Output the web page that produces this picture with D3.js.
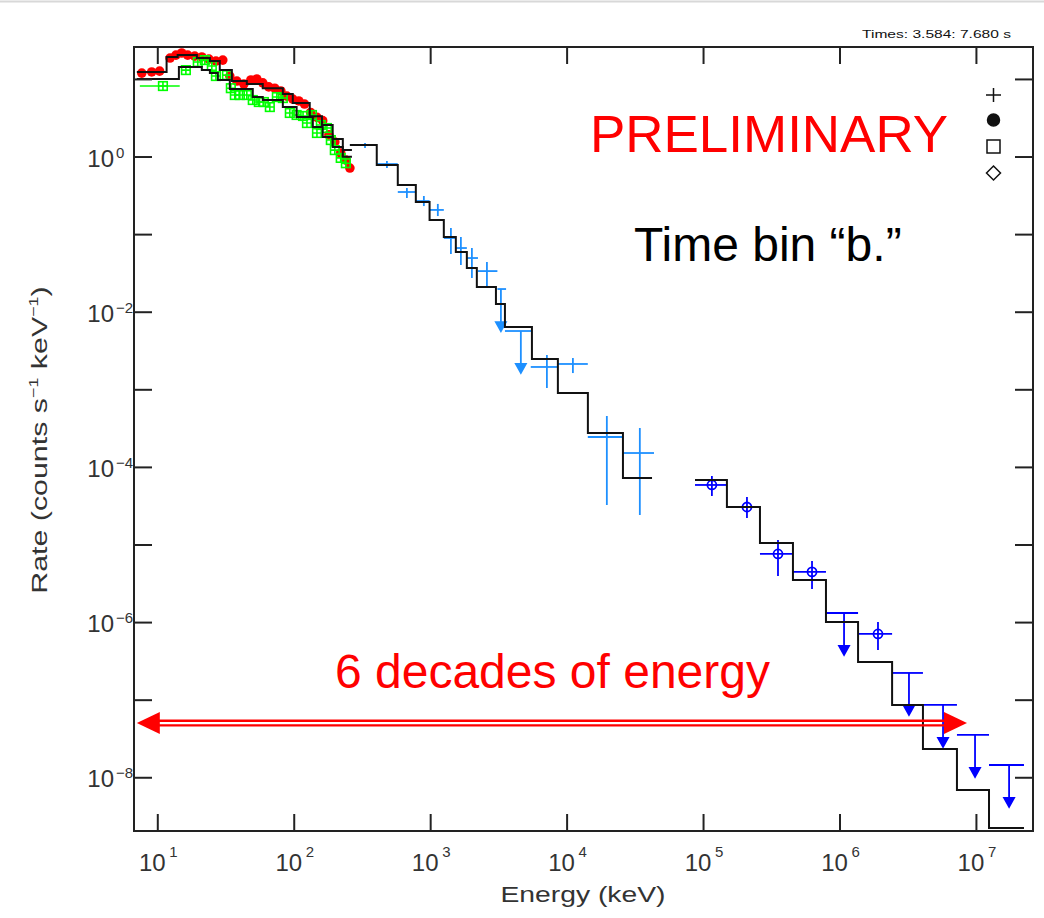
<!DOCTYPE html>
<html>
<head>
<meta charset="utf-8">
<script src="https://cdn.jsdelivr.net/npm/d3@7"></script>
<style>
  body { margin:0; background:#fff; }
  svg { display:block; }
  text { font-family:"Liberation Sans", Arial, sans-serif; }
</style>
</head>
<body>
<div class="canvas"></div>
<script>
// ---- data ----
// low energy detector 1 (red, filled circles)
const redE    = [7.7, 9.1, 10.4, 12.4, 13.7, 15.1, 16.7, 18.8, 21.2, 23.9, 26.9, 30.2, 34.0, 38.3, 43.1, 48.5, 53.6, 59.3, 65.6, 72.6, 80.4, 88.9, 98.4, 109, 120, 133, 148, 163, 181, 200, 221, 241, 258]
const redRate = [11.9, 12.3, 12.6, 18.6, 20.3, 21.6, 20.3, 19.7, 19.2, 18.0, 17.0, 17.5, 10.9, 9.4, 8.6, 9.7, 10.0, 8.9, 7.9, 7.6, 7.0, 6.0, 5.5, 5.2, 4.75, 3.7, 3.2, 2.9, 1.9, 1.54, 1.11, 0.90, 0.71]
const redBarE = [7.2, 11.4]       // bin of the first red point
// low energy detector 2 (green, open squares)
const greenE    = [11.0, 16.2, 19.8, 22.3, 25.1, 26.9, 32.4, 34.6, 37.0, 40.3, 45.3, 50.1, 55.5, 60.4, 66.8, 75.2, 83.2, 93.6, 105, 117, 125, 136, 148, 158, 175, 187, 200, 221, 241]
const greenRate = [8.1, 13.0, 16.5, 17.5, 14.7, 10.9, 11.2, 7.6, 6.2, 6.2, 6.2, 5.35, 5.04, 5.04, 4.34, 5.84, 5.67, 3.64, 3.43, 3.33, 2.70, 3.43, 2.01, 2.55, 2.33, 1.63, 1.21, 0.96, 0.82]
const greenBarE = [7.45, 14.6]
// BGO (light blue crosses), null error = upper limit
const bgoE     = [333, 482, 675, 899, 1138, 1419, 1679, 2022, 2606, 3300, 4620, 7170, 11120, 19720, 34410]
const bgoLo    = [258, 406, 579, 785, 990, 1259, 1542, 1857, 2240, 3110, 3532, 5460, 8630, 14300, 25880]
const bgoHi    = [406, 579, 785, 990, 1259, 1542, 1857, 2240, 3110, 3600, 5570, 8630, 14300, 25880, 43700]
const bgoRate  = [1.41, 0.80, 0.349, 0.267, 0.205, 0.0891, 0.0662, 0.0492, 0.0334, 0.0196, 0.00564, 0.00194, 0.00212, 0.000243, 0.000151]
const bgoErrLo = [1.29, 0.711, 0.292, 0.230, 0.171, 0.0554, 0.040, 0.0272, 0.0208, null, null, 0.00104, 0.00162, 3.23e-5, 2.4e-5]
const bgoErrHi = [1.49, 0.875, 0.393, 0.310, 0.245, 0.120, 0.0918, 0.0662, 0.0436, null, null, 0.00277, 0.00253, 0.000453, 0.000317]
// LAT (blue circles), null error = upper limit
const latE     = [116100, 209800, 354200, 629000, 1.08e6, 1.915e6, 3.23e6, 5.74e6, 9.85e6, 1.75e7]
const latLo    = [87300, 149600, 261300, 456000, 796000, 1.368e6, 2.43e6, 4.09e6, 7.26e6, 1.247e7]
const latHi    = [149600, 261300, 456000, 796000, 1.368e6, 2.43e6, 4.09e6, 7.26e6, 1.247e7, 2.25e7]
const latRate  = [5.85e-5, 3.04e-5, 7.55e-6, 4.43e-6, 1.31e-6, 7.03e-7, 2.21e-7, 8.55e-8, 3.51e-8, 1.44e-8]
const latErrLo = [4.22e-5, 2.19e-5, 3.93e-6, 2.67e-6, null, 4.37e-7, null, null, null, null]
const latErrHi = [7.63e-5, 4.09e-5, 1.14e-5, 6.12e-6, null, 1.0e-6, null, null, null, null]
// folded model step lines: bin edges + value per bin
const modelRedEdges  = [7.08, 11.7, 14.1, 19.5, 24.3, 28.7, 35.2, 45.3, 59.3, 83.2, 98.4, 131, 161, 193, 229, 267]
const modelRedRate   = [12.3, 19.2, 20.3, 18.6, 17.0, 13.0, 9.4, 8.6, 7.6, 6.4, 4.9, 3.3, 2.55, 1.68, 1.21]
const modelGreenEdges = [7.08, 14.4, 21.2, 24.3, 27.8, 34.0, 50.1, 59.3, 83.2, 105, 138, 163, 193, 229, 267]
const modelGreenRate  = [10.0, 14.2, 13.0, 11.9, 9.7, 7.4, 5.84, 5.35, 4.34, 3.23, 2.40, 1.78, 1.33, 0.99]
const modelBgoEdges = [258, 406, 579, 785, 990, 1259, 1542, 1857, 2198, 3034, 3532, 5570, 8630, 14320, 25880, 42270]
const modelBgoRate  = [1.41, 0.777, 0.429, 0.259, 0.152, 0.0918, 0.0588, 0.0366, 0.0208, 0.01256, 0.00635, 0.00246, 0.000895, 0.000273, 7.19e-5]
const modelLatEdges = [87300, 149600, 261300, 456000, 796000, 1.368e6, 2.43e6, 4.09e6, 7.26e6, 1.247e7, 2.25e7]
const modelLatRate  = [6.78e-5, 3.04e-5, 1.045e-5, 3.49e-6, 1.0e-6, 3.06e-7, 8.55e-8, 2.32e-8, 6.86e-9, 2.22e-9]
// axes
const xTicks = [1e1, 1e2, 1e3, 1e4, 1e5, 1e6, 1e7]
const yTicks = [1e1, 1e0, 1e-1, 1e-2, 1e-3, 1e-4, 1e-5, 1e-6, 1e-7, 1e-8]
const yLabelExp = [0, -2, -4, -6, -8]
// annotation arrow ("6 decades")
const arrowE = [7.08, 8.6e6]
const arrowRate = 5.0e-8

let dim = { width:1044, height:918 }
let frame = { left:134, right:1033, top:47, bottom:831 }
let svg = d3.select(".canvas").append("svg").attr("width", dim.width).attr("height", dim.height)

svg.append("line").attr("x1",0).attr("x2",dim.width).attr("y1",1.5).attr("y2",1.5)
  .attr("stroke","#d8d8d8").attr("stroke-width",2)

const x = d3.scaleLog().domain([6.75, 2.62e7]).range([frame.left, frame.right])
const y = d3.scaleLog().domain([2.03e-9, 25.8]).range([frame.bottom, frame.top])

svg.append("clipPath").attr("id","clip").append("rect")
  .attr("x",frame.left).attr("y",frame.top)
  .attr("width",frame.right-frame.left).attr("height",frame.bottom-frame.top)
let plot = svg.append("g").attr("clip-path","url(#clip)")

const ulLen = 42
const upperLimit = (g, xc, y0, color) => {
  g.append("line").attr("x1",xc).attr("x2",xc).attr("y1",y0).attr("y2",y0+ulLen-6)
    .attr("stroke",color).attr("stroke-width",1.8)
  g.append("path").attr("d",`M${xc-5},${y0+ulLen-9}L${xc+5},${y0+ulLen-9}L${xc},${y0+ulLen}Z`).attr("fill",color)
}

// red points
plot.append("line").attr("x1",x(redBarE[0])).attr("x2",x(redBarE[1]))
  .attr("y1",y(redRate[1])).attr("y2",y(redRate[1])).attr("stroke","#ff0000").attr("stroke-width",2)
plot.selectAll(".red").data(redE).enter().append("circle").attr("class","red")
  .attr("cx",d => x(d)).attr("cy",(d,i) => y(redRate[i])).attr("r",4.8).attr("fill","#ff0000")

// green squares
let green = plot.append("g").attr("stroke","#00ff00").attr("stroke-width",1.6).attr("fill","none")
green.append("line").attr("x1",x(greenBarE[0])).attr("x2",x(greenBarE[1]))
  .attr("y1",y(greenRate[0])).attr("y2",y(greenRate[0]))
greenE.forEach((e,i) => {
  const cx = x(e), cy = y(greenRate[i]), h = 4.3
  green.append("rect").attr("x",cx-h).attr("y",cy-h).attr("width",2*h).attr("height",2*h)
  green.append("path").attr("d",`M${cx-h},${cy}H${cx+h}M${cx},${cy-h}V${cy+h}`)
})

// BGO crosses
let bgo = plot.append("g").attr("stroke","#1e90ff").attr("stroke-width",1.8)
bgoE.forEach((e,i) => {
  const cy = y(bgoRate[i])
  bgo.append("line").attr("x1",x(bgoLo[i])).attr("x2",x(bgoHi[i])).attr("y1",cy).attr("y2",cy)
  if (bgoErrLo[i] === null) upperLimit(bgo, x(e), cy, "#1e90ff")
  else bgo.append("line").attr("x1",x(e)).attr("x2",x(e)).attr("y1",y(bgoErrHi[i])).attr("y2",y(bgoErrLo[i]))
})

// LAT points
let lat = plot.append("g").attr("stroke","#0000ff").attr("stroke-width",1.8).attr("fill","none")
latE.forEach((e,i) => {
  const cy = y(latRate[i])
  lat.append("line").attr("x1",x(latLo[i])).attr("x2",x(latHi[i])).attr("y1",cy).attr("y2",cy)
  if (latErrLo[i] === null) upperLimit(lat, x(e), cy, "#0000ff")
  else {
    lat.append("line").attr("x1",x(e)).attr("x2",x(e)).attr("y1",y(latErrHi[i])).attr("y2",y(latErrLo[i]))
    lat.append("circle").attr("cx",x(e)).attr("cy",cy).attr("r",4.5)
  }
})

// model step lines
const step = d3.line().x(d => x(d[0])).y(d => y(d[1])).curve(d3.curveStepAfter)
const stepPts = (edges, rates) => rates.map((r,i) => [edges[i], r]).concat([[edges[edges.length-1], rates[rates.length-1]]])
;[[modelRedEdges, modelRedRate], [modelGreenEdges, modelGreenRate], [modelBgoEdges, modelBgoRate], [modelLatEdges, modelLatRate]]
  .forEach(m => {
    plot.append("path").attr("d", step(stepPts(m[0], m[1])))
      .attr("fill","none").attr("stroke","#111").attr("stroke-width",2)
  })

// axes (ticks inside on all four sides)
const tickStyle = g => {
  g.select(".domain").remove()
  g.selectAll(".tick line").attr("stroke","#222").attr("stroke-width",2)
}
svg.append("g").attr("transform",`translate(0,${frame.bottom})`)
  .call(d3.axisBottom(x).tickValues(xTicks).tickSize(-17).tickFormat("")).call(tickStyle)
svg.append("g").attr("transform",`translate(0,${frame.top})`)
  .call(d3.axisTop(x).tickValues(xTicks).tickSize(-17).tickFormat("")).call(tickStyle)
svg.append("g").attr("transform",`translate(${frame.left},0)`)
  .call(d3.axisLeft(y).tickValues(yTicks).tickSize(-18).tickFormat("")).call(tickStyle)
svg.append("g").attr("transform",`translate(${frame.right},0)`)
  .call(d3.axisRight(y).tickValues(yTicks).tickSize(-18).tickFormat("")).call(tickStyle)
svg.append("rect").attr("x",frame.left).attr("y",frame.top)
  .attr("width",frame.right-frame.left).attr("height",frame.bottom-frame.top)
  .attr("fill","none").attr("stroke","#222").attr("stroke-width",2)

// tick labels
let xl = svg.append("g").attr("fill","#333")
xTicks.forEach(t => {
  const e = Math.round(Math.log10(t))
  xl.append("text").attr("x",x(t)-5).attr("y",871).attr("text-anchor","middle").attr("font-size",24).text("10")
  xl.append("text").attr("x",x(t)+12).attr("y",857).attr("font-size",15).text(e)
})
let yl = svg.append("g").attr("fill","#333")
yLabelExp.forEach(e => {
  const ty = y(Math.pow(10, e))
  yl.append("text").attr("x",114).attr("y",ty+10).attr("text-anchor","end").attr("font-size",24).text("10")
  yl.append("text").attr("x",116).attr("y",ty+1).attr("font-size",15).text(e === 0 ? "0" : "\u2212" + (-e))
})

// axis titles
svg.append("text").attr("x",583).attr("y",902).attr("text-anchor","middle").attr("font-size",22)
  .attr("fill","#333").attr("textLength",165).attr("lengthAdjust","spacingAndGlyphs").text("Energy (keV)")
let yt = svg.append("text").attr("transform","translate(47,440) rotate(-90) scale(1.38,1)")
  .attr("text-anchor","middle").attr("font-size",22).attr("fill","#333")
yt.append("tspan").text("Rate (counts s")
yt.append("tspan").attr("font-size",13).attr("dy",-9).text("\u22121")
yt.append("tspan").attr("dy",9).text(" keV")
yt.append("tspan").attr("font-size",13).attr("dy",-9).text("\u22121")
yt.append("tspan").attr("dy",9).text(")")

// header + legend symbols
svg.append("text").attr("x",862).attr("y",38).attr("font-size",10).attr("fill","#111")
  .attr("textLength",149).attr("lengthAdjust","spacingAndGlyphs").text("Times: 3.584: 7.680 s")
let leg = svg.append("g").attr("stroke","#111").attr("stroke-width",1.5).attr("fill","none")
leg.append("path").attr("d","M986,95H1001M993.5,88V102")
leg.append("circle").attr("cx",993.5).attr("cy",120).attr("r",6).attr("fill","#111")
leg.append("rect").attr("x",987).attr("y",140).attr("width",13).attr("height",13)
leg.append("path").attr("d","M993.5,166L1000.5,173L993.5,180L986.5,173Z")

// annotations
svg.append("text").attr("x",590).attr("y",152).attr("font-size",52).attr("fill","#ff0000")
  .attr("textLength",358).attr("lengthAdjust","spacingAndGlyphs").text("PRELIMINARY")
svg.append("text").attr("x",634).attr("y",261).attr("font-size",48).attr("fill","#000")
  .text("Time bin \u201Cb.\u201D")
svg.append("text").attr("x",335).attr("y",688).attr("font-size",48).attr("fill","#ff0000")
  .text("6 decades of energy")

const ax0 = x(arrowE[0]), ax1 = x(arrowE[1]), ay = y(arrowRate)
let arr = svg.append("g").attr("stroke","#ff0000").attr("stroke-width",2.4)
arr.append("line").attr("x1",ax0+20).attr("x2",ax1-20).attr("y1",ay-2.3).attr("y2",ay-2.3)
arr.append("line").attr("x1",ax0+20).attr("x2",ax1-20).attr("y1",ay+2.3).attr("y2",ay+2.3)
arr.append("path").attr("stroke","none").attr("fill","#ff0000")
  .attr("d",`M${ax0},${ay}L${ax0+23},${ay-11}L${ax0+23},${ay+11}Z`)
arr.append("path").attr("stroke","none").attr("fill","#ff0000")
  .attr("d",`M${ax1},${ay}L${ax1-23},${ay-11}L${ax1-23},${ay+11}Z`)
</script>
</body>
</html>
